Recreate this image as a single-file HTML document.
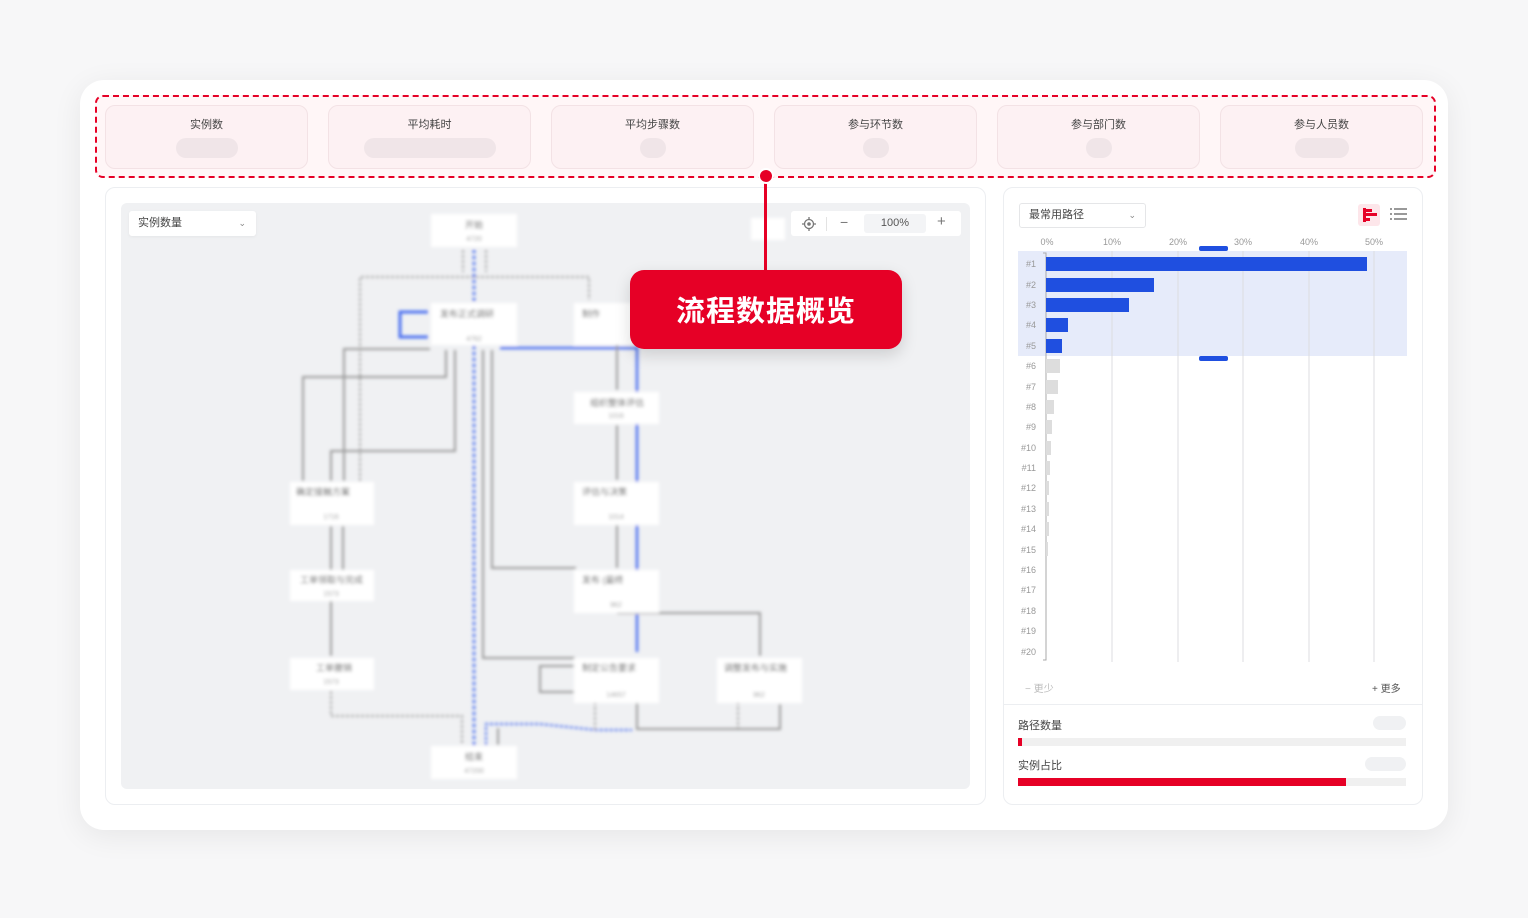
<!DOCTYPE html>
<html><head><meta charset="utf-8">
<style>
*{box-sizing:border-box;margin:0;padding:0}
body{width:1528px;height:918px;background:#f7f7f8;font-family:"Liberation Sans","Noto Sans CJK SC",sans-serif;position:relative;overflow:hidden;color:#333}
.abs{position:absolute}
.card{left:80px;top:80px;width:1368px;height:750px;background:#fff;border-radius:24px;box-shadow:0 6px 30px rgba(0,0,0,0.07)}
.dash{left:95px;top:95px;width:1341px;height:83px;border:2px dashed #e60026;border-radius:8px;background:#fff6f7}
.stat{top:105px;width:203px;height:64px;border:1px solid #f3e2e5;border-radius:10px;background:#fdf1f3;text-align:center;font-size:11px;color:#444}
.stat .t{margin-top:10px}
.stat .p{margin:6px auto 0;height:20px;border-radius:10px;background:#f0e5e8}
.panel{border:1px solid #eceef1;border-radius:10px;background:#fff}
</style></head><body>
<div class="abs card"></div>
<div class="abs dash"></div>
<div class="abs stat" style="left:105px"><div class="t">实例数</div><div class="p" style="width:62px"></div></div>
<div class="abs stat" style="left:328px"><div class="t">平均耗时</div><div class="p" style="width:132px"></div></div>
<div class="abs stat" style="left:551px"><div class="t">平均步骤数</div><div class="p" style="width:26px"></div></div>
<div class="abs stat" style="left:774px"><div class="t">参与环节数</div><div class="p" style="width:26px"></div></div>
<div class="abs stat" style="left:997px"><div class="t">参与部门数</div><div class="p" style="width:26px"></div></div>
<div class="abs stat" style="left:1220px"><div class="t">参与人员数</div><div class="p" style="width:54px"></div></div>

<div class="abs panel" style="left:105px;top:187px;width:881px;height:618px"></div>
<div class="abs" style="left:121px;top:203px;width:849px;height:586px;background:#f0f1f3;border-radius:6px"></div>

<svg class="abs" style="left:0;top:0" width="1528" height="918">
<defs><filter id="b" x="-5%" y="-5%" width="110%" height="110%"><feGaussianBlur stdDeviation="1.6"/></filter></defs>
<g filter="url(#b)" font-family="Liberation Sans,Noto Sans CJK SC,sans-serif" font-size="9" fill="#666">
<g fill="none" stroke-width="2">
<path d="M360 481V277H589V300" stroke="#aaa" stroke-dasharray="3 2"/>
<path d="M463 250V272M486 250V272" stroke="#aaa" stroke-dasharray="3 2"/>
<path d="M474 250V745" stroke="#4a6ef0" stroke-dasharray="3 3" stroke-width="3"/>
<path d="M500 348H637V652" stroke="#4a6ef0" stroke-width="2.5"/>
<path d="M428 312H400V337H428" stroke="#4a6ef0" stroke-width="3"/>
<path d="M303 481V377H446V350M344 481V349H430" stroke="#999"/>
<path d="M331 481V451H455V350" stroke="#999"/>
<path d="M483 350V658H575M492 350V568H576" stroke="#999"/>
<path d="M617 345V390M617 425V480M617 525V568M617 613H760V656" stroke="#999"/>
<path d="M331 526V570M343 526V570M331 601V656" stroke="#999"/>
<path d="M331 691V716H462V745" stroke="#aaa" stroke-dasharray="3 2"/>
<path d="M486 745V724H540L596 730H632" stroke="#4a6ef0" stroke-dasharray="3 2"/>
<path d="M595 702V730M738 702V730" stroke="#aaa" stroke-dasharray="3 2"/>
<path d="M637 703V729H780V704" stroke="#999"/>
<path d="M574 666H540V692H574" stroke="#999"/>
<path d="M498 728V745" stroke="#999"/>
</g>
<g fill="#fff">
<rect x="431" y="214" width="86" height="33"/>
<rect x="431" y="303" width="86" height="42"/>
<rect x="574" y="303" width="60" height="42"/>
<rect x="574" y="392" width="85" height="32"/>
<rect x="574" y="482" width="85" height="43"/>
<rect x="574" y="570" width="85" height="43"/>
<rect x="290" y="482" width="84" height="43"/>
<rect x="290" y="570" width="84" height="31"/>
<rect x="290" y="658" width="84" height="32"/>
<rect x="574" y="658" width="85" height="45"/>
<rect x="717" y="658" width="85" height="45"/>
<rect x="431" y="746" width="86" height="33"/>
<rect x="751" y="218" width="34" height="22"/>
</g>
<g fill="#555">
<text x="474" y="228" text-anchor="middle">开始</text>
<text x="440" y="317">发布正式调研</text>
<text x="582" y="317">制作</text>
<text x="590" y="406">组织整体评估</text>
<text x="582" y="495">评估与决策</text>
<text x="582" y="583">发布 (最终</text>
<text x="296" y="495">确定接触方案</text>
<text x="300" y="583">工单领取与完成</text>
<text x="316" y="671">工单撤销</text>
<text x="582" y="671">制定公告要求</text>
<text x="724" y="671">调整发布与实施</text>
<text x="474" y="760" text-anchor="middle">结束</text>
</g>
<g fill="#999" font-size="7" text-anchor="middle">
<text x="474" y="241">4720</text><text x="474" y="341">4762</text><text x="616" y="418">1016</text><text x="616" y="519">1014</text><text x="616" y="607">962</text><text x="331" y="519">1716</text><text x="331" y="596">1573</text><text x="331" y="684">1573</text><text x="616" y="697">14657</text><text x="759" y="697">962</text><text x="474" y="773">47200</text>
</g>
</g>
</svg>

<div class="abs" style="left:129px;top:211px;width:127px;height:25px;background:#fff;border-radius:3px;font-size:11px;line-height:25px;padding-left:9px;color:#444;box-shadow:0 1px 3px rgba(0,0,0,0.05)">实例数量<span style="position:absolute;right:10px;font-size:9px;color:#888">⌄</span></div>
<div class="abs" style="left:791px;top:211px;width:170px;height:25px;background:#fff;border-radius:3px;font-size:11px;color:#555">
<svg class="abs" style="left:11px;top:6px" width="14" height="14"><circle cx="7" cy="7" r="4.5" fill="none" stroke="#777" stroke-width="1.3"/><circle cx="7" cy="7" r="1.8" fill="#777"/><path d="M7 0V2.5M7 11.5V14M0 7H2.5M11.5 7H14" stroke="#777" stroke-width="1.3"/></svg>
<div class="abs" style="left:35px;top:6px;width:1px;height:14px;background:#e3e3e3"></div>
<div class="abs" style="left:49px;top:3px;font-size:14px;color:#777">−</div>
<div class="abs" style="left:73px;top:3px;width:62px;height:19px;background:#f3f4f6;border-radius:3px;text-align:center;line-height:19px">100%</div>
<div class="abs" style="left:146px;top:2px;font-size:15px;color:#777">+</div>
</div>

<div class="abs" style="left:764px;top:176px;width:3px;height:96px;background:#e60026"></div>
<div class="abs" style="left:758px;top:168px;width:16px;height:16px;border-radius:50%;background:#e60026;border:2px solid #fff"></div>
<div class="abs" style="left:630px;top:270px;width:272px;height:79px;background:#e60026;border-radius:14px;box-shadow:0 6px 16px rgba(0,0,0,0.15);color:#fff;font-size:29px;font-weight:bold;text-align:center;line-height:79px;letter-spacing:1px;font-family:'Noto Sans CJK SC',sans-serif">流程数据概览</div>

<div class="abs panel" style="left:1003px;top:187px;width:420px;height:618px"></div>
<div class="abs" style="left:1019px;top:203px;width:127px;height:25px;border:1px solid #e5e6e8;border-radius:3px;font-size:11px;line-height:23px;padding-left:9px;color:#444">最常用路径<span style="position:absolute;right:9px;font-size:9px;color:#888">⌄</span></div>
<div class="abs" style="left:1358px;top:204px;width:22px;height:22px;background:#fde6ea;border-radius:3px"></div>
<div class="abs" style="left:1363px;top:208px;width:3px;height:14px;background:#e60026"></div>
<div class="abs" style="left:1366px;top:209px;width:6px;height:3px;background:#e60026"></div>
<div class="abs" style="left:1366px;top:213px;width:11px;height:3px;background:#e60026"></div>
<div class="abs" style="left:1366px;top:218px;width:4px;height:3px;background:#e60026"></div>
<svg class="abs" style="left:1390px;top:208px" width="18" height="14"><g fill="#999"><rect x="0" y="0" width="2" height="2"/><rect x="4" y="0" width="13" height="2"/><rect x="0" y="5" width="2" height="2"/><rect x="4" y="5" width="13" height="2"/><rect x="0" y="10" width="2" height="2"/><rect x="4" y="10" width="13" height="2"/></g></svg>

<svg class="abs" style="left:0;top:0" width="1528" height="918" font-family="Liberation Sans,sans-serif" font-size="9" fill="#999">
<rect x="1018" y="251" width="389" height="105" fill="#e6ebfa"/>
<g stroke="#dcdde0" stroke-width="1">
<path d="M1112 251V662M1178 251V662M1243 251V662M1309 251V662M1374 251V662"/>
</g>
<path d="M1043 253H1046V660H1043" stroke="#aaa" fill="none"/>
<g text-anchor="middle">
<text x="1047" y="245">0%</text><text x="1112" y="245">10%</text><text x="1178" y="245">20%</text><text x="1243" y="245">30%</text><text x="1309" y="245">40%</text><text x="1374" y="245">50%</text>
</g>
<rect x="1199" y="246" width="29" height="5" rx="2" fill="#1f4fe0"/>
<rect x="1199" y="356" width="29" height="5" rx="2" fill="#1f4fe0"/>
<g fill="#1f4fe0">
<rect x="1046" y="257" width="321" height="14"/>
<rect x="1046" y="278" width="108" height="14"/>
<rect x="1046" y="298" width="83" height="14"/>
<rect x="1046" y="318" width="22" height="14"/>
<rect x="1046" y="339" width="16" height="14"/>
</g>
<g fill="#dddddd">
<rect x="1046" y="359" width="14" height="14"/><rect x="1046" y="380" width="12" height="14"/><rect x="1046" y="400" width="8" height="14"/><rect x="1046" y="420" width="6" height="14"/><rect x="1046" y="441" width="5" height="14"/><rect x="1046" y="461" width="4" height="14"/><rect x="1046" y="481" width="3" height="14"/><rect x="1046" y="502" width="3" height="14"/><rect x="1046" y="522" width="3" height="14"/><rect x="1046" y="542" width="2" height="14"/>
</g>
<g text-anchor="end">
<text x="1036" y="267">#1</text><text x="1036" y="288">#2</text><text x="1036" y="308">#3</text><text x="1036" y="328">#4</text><text x="1036" y="349">#5</text><text x="1036" y="369">#6</text><text x="1036" y="390">#7</text><text x="1036" y="410">#8</text><text x="1036" y="430">#9</text><text x="1036" y="451">#10</text><text x="1036" y="471">#11</text><text x="1036" y="491">#12</text><text x="1036" y="512">#13</text><text x="1036" y="532">#14</text><text x="1036" y="553">#15</text><text x="1036" y="573">#16</text><text x="1036" y="593">#17</text><text x="1036" y="614">#18</text><text x="1036" y="634">#19</text><text x="1036" y="655">#20</text>
</g>
</svg>
<div class="abs" style="left:1025px;top:680px;font-size:10px;color:#bbb">− 更少</div>
<div class="abs" style="left:1372px;top:680px;font-size:10px;color:#555">+ 更多</div>
<div class="abs" style="left:1004px;top:704px;width:418px;height:1px;background:#eceef1"></div>
<div class="abs" style="left:1018px;top:717px;font-size:11px;color:#444">路径数量</div>
<div class="abs" style="left:1373px;top:716px;width:33px;height:14px;border-radius:7px;background:#f0f1f3"></div>
<div class="abs" style="left:1018px;top:738px;width:388px;height:8px;background:#f0f0f0"></div>
<div class="abs" style="left:1018px;top:738px;width:4px;height:8px;background:#e60026"></div>
<div class="abs" style="left:1018px;top:757px;font-size:11px;color:#444">实例占比</div>
<div class="abs" style="left:1365px;top:757px;width:41px;height:14px;border-radius:7px;background:#f0f1f3"></div>
<div class="abs" style="left:1018px;top:778px;width:388px;height:8px;background:#f0f0f0"></div>
<div class="abs" style="left:1018px;top:778px;width:328px;height:8px;background:#e60026"></div>
</body></html>
